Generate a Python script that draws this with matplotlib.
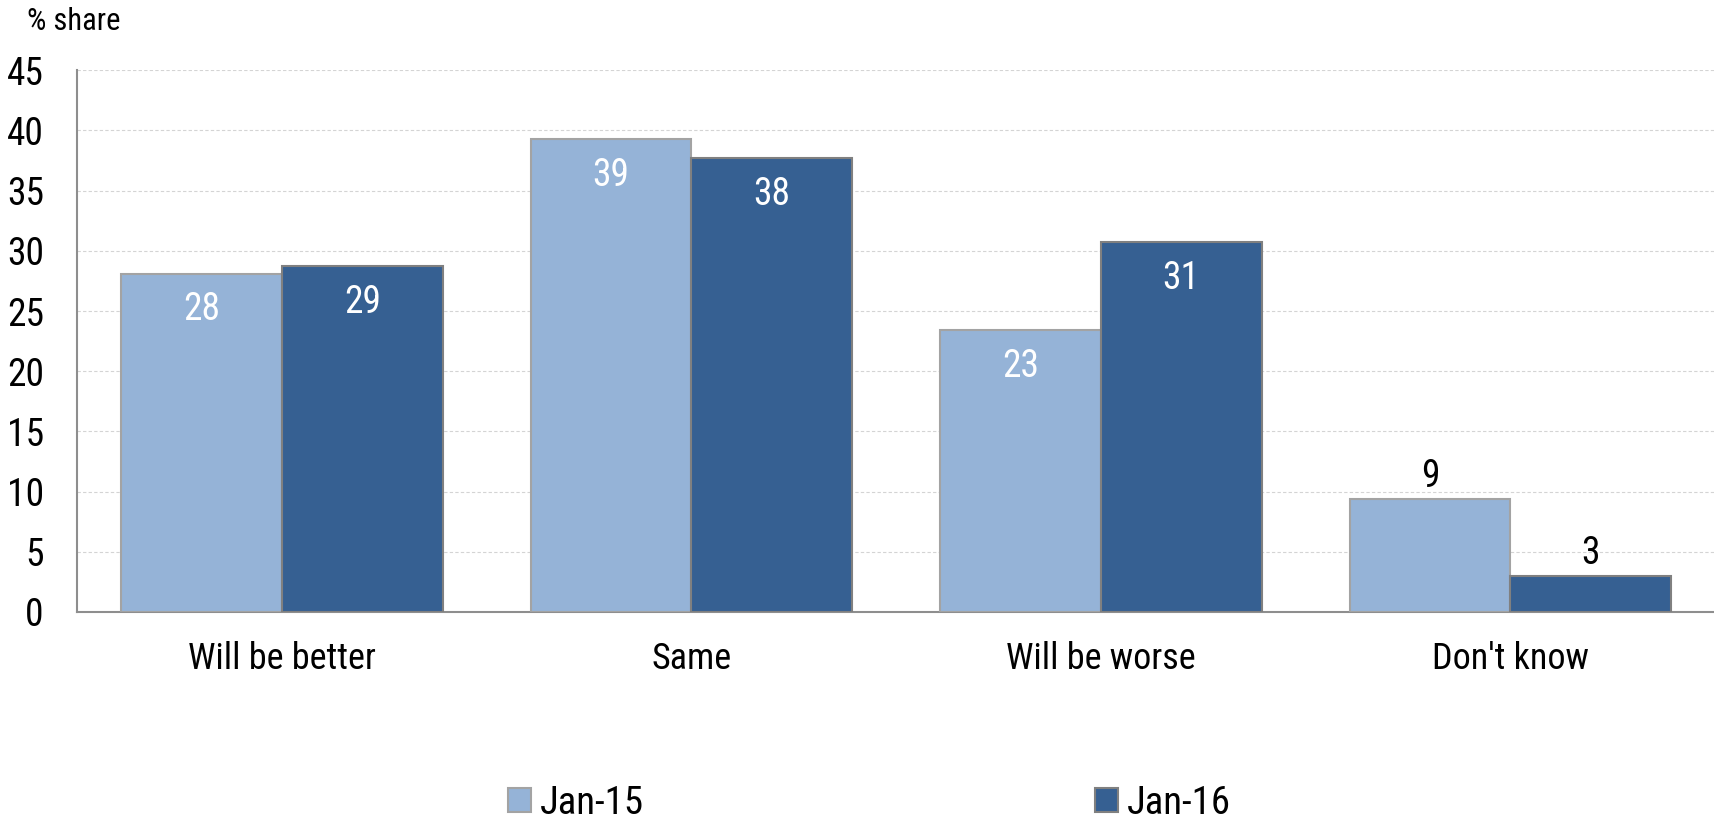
import matplotlib.pyplot as plt
import numpy as np

plt.rcParams['font.family'] = ['Roboto Condensed', 'Archivo Narrow', 'DejaVu Sans']

categories = ["Will be better", "Same", "Will be worse", "Don't know"]
series = ["Jan-15", "Jan-16"]
jan15 = [28.1, 39.3, 23.4, 9.4]
jan16 = [28.7, 37.7, 30.7, 3.0]
yticks = [0, 5, 10, 15, 20, 25, 30, 35, 40, 45]

light = '#95b3d7'
dark = '#366092'

fig = plt.figure(figsize=(17.15, 8.22), dpi=100)
ax = fig.add_axes([0.045, 0.2555, 0.955, 0.659])

x = np.arange(len(categories))
w = 0.3926
b1 = ax.bar(x - w / 2, jan15, w, color=light, edgecolor='#a3a3a3', linewidth=1.5, label=series[0], zorder=3)
b2 = ax.bar(x + w / 2, jan16, w, color=dark, edgecolor='#808080', linewidth=1.5, label=series[1], zorder=3)

# values: white inside tall bars, black above the short ones
for bars in (b1, b2):
    for rect in bars:
        v = rect.get_height()
        cx = rect.get_x() + rect.get_width() / 2
        if v > 15:
            ax.annotate(f"{v:.0f}", (cx, v), xytext=(0, -26), textcoords='offset points',
                        ha='center', va='center', color='white', fontsize=27)
        else:
            ax.annotate(f"{v:.0f}", (cx, v), xytext=(0, 16), textcoords='offset points',
                        ha='center', va='center', color='black', fontsize=27)

ax.set_xlim(-0.5, 3.5)
ax.set_ylim(0, 45)
ax.set_yticks(yticks)
ax.set_xticks(x)
ax.set_xticklabels(categories, fontsize=26)
ax.tick_params(axis='y', labelsize=27, length=0, pad=24)
ax.tick_params(axis='x', length=0, pad=21)

ax.grid(axis='y', color='#d4d4d4', linestyle=(0, (3, 2)), linewidth=0.8, zorder=0)
ax.set_axisbelow(True)
for s in ('top', 'right'):
    ax.spines[s].set_visible(False)
for s in ('left', 'bottom'):
    ax.spines[s].set_color('#8e8e8e')
    ax.spines[s].set_linewidth(1.5)

fig.text(0.0157, 0.974, "% share", fontsize=22, va='center', ha='left')

fig.legend(handles=[b1, b2], labels=series, loc='center left', bbox_to_anchor=(0.296, 0.023),
           ncol=2, frameon=False, fontsize=28, handlelength=0.59, handleheight=0.59,
           handletextpad=0.23, columnspacing=11.6, borderpad=0, borderaxespad=0)

fig.savefig('out.png', dpi=100)
